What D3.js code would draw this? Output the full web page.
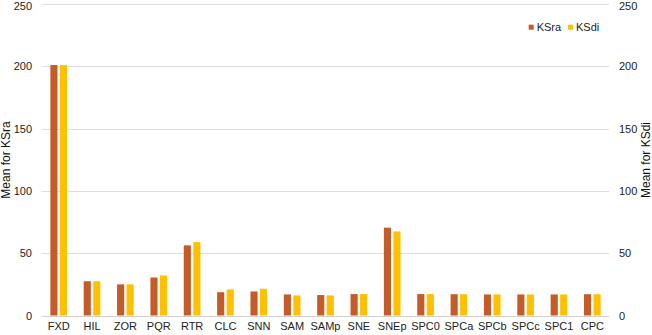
<!DOCTYPE html>
<html><head><meta charset="utf-8">
<script src="https://cdn.jsdelivr.net/npm/d3@7"></script>
<style>body{margin:0;background:#fff}svg{display:block;font-family:"Liberation Sans",Arial,sans-serif}</style>
</head><body><svg id="c" width="652" height="335"></svg>
<script>
const categories = ["FXD","HIL","ZOR","PQR","RTR","CLC","SNN","SAM","SAMp","SNE","SNEp","SPC0","SPCa","SPCb","SPCc","SPC1","CPC"];
const ksra = [201,27.5,25,30.5,56.3,18.7,19.3,16.9,16.4,17.2,70.5,17.2,17.1,16.9,16.9,16.9,17.1];
const ksdi = [201,27.5,25,32.1,58.9,20.9,21.4,16.1,16.1,17.2,67.5,17.2,17.1,16.9,16.9,16.9,17.1];
const seriesNames = ["KSra","KSdi"];
const colors = ["#c55b28","#ffc000"];
const yTicks = [0,50,100,150,200,250];

const svg = d3.select("#c");
const L = 42, R = 609, T = 4, B = 315.5;
const x = d3.scaleBand().domain(categories).range([L,R]).paddingInner(0).paddingOuter(0);
const x1 = d3.scaleBand().domain(seriesNames).range([8.35, 25.0]).paddingInner(0.25).paddingOuter(0);
const yL = d3.scaleLinear().domain([0,250]).range([B,T]);
const yR = d3.scaleLinear().domain([0,250]).range([B,T]);

// gridlines
svg.append("g").selectAll("line").data(yTicks).join("line")
  .attr("x1",L).attr("x2",R)
  .attr("y1",d=>Math.round(yL(d))+0.5).attr("y2",d=>Math.round(yL(d))+0.5)
  .attr("stroke",d=>d===0?"#d0d0d0":"#dedede").attr("stroke-width",1);

// bars
const series = [ksra, ksdi];
const g = svg.append("g");
series.forEach((vals,si)=>{
  g.append("g").selectAll("rect").data(vals).join("rect")
    .attr("x",(d,i)=>x(categories[i])+x1(seriesNames[si]))
    .attr("width",x1.bandwidth())
    .attr("y",d=>yL(d))
    .attr("height",d=>yL(0)-yL(d))
    .attr("fill",colors[si]);
});

const fontFam = "Liberation Sans, Arial, sans-serif";
// left axis
const axL = d3.axisLeft(yL).tickValues(yTicks).tickSize(0).tickPadding(0);
const gl = svg.append("g").attr("transform",`translate(32,0)`).call(axL);
gl.select(".domain").remove();
gl.selectAll("text").attr("font-size",11).attr("fill","#222").attr("font-family",fontFam)
  .attr("dy",d=>d===250?"0.5em":"0.32em");

// right axis
const axR = d3.axisRight(yR).tickValues(yTicks).tickSize(0).tickPadding(0);
const gr = svg.append("g").attr("transform",`translate(619,0)`).call(axR);
gr.select(".domain").remove();
gr.selectAll("text").attr("font-size",11).attr("fill","#222").attr("font-family",fontFam)
  .attr("dy",d=>d===250?"0.5em":"0.32em");

// bottom axis
const axB = d3.axisBottom(x).tickSize(0).tickPadding(0);
const gb = svg.append("g").attr("transform",`translate(0,${B+7})`).call(axB);
gb.select(".domain").remove();
gb.selectAll("text").attr("font-size",11).attr("fill","#222").attr("font-family",fontFam);

// axis titles
svg.append("text").attr("transform",`translate(9.5,160) rotate(-90)`).attr("text-anchor","middle")
  .attr("font-size",12).attr("fill","#111").text("Mean for KSra");
svg.append("text").attr("transform",`translate(649.5,160) rotate(-90)`).attr("text-anchor","middle")
  .attr("font-size",12).attr("fill","#111").text("Mean for KSdi");

// legend
const leg = svg.append("g");
const legX = [528.7, 568];
seriesNames.forEach((n,i)=>{
  leg.append("rect").attr("x",legX[i]).attr("y",24.7).attr("width",5).attr("height",5).attr("fill",colors[i]);
  leg.append("text").attr("x",legX[i]+8).attr("y",31).attr("font-size",11).attr("fill","#222").text(n);
});
</script></body></html>
